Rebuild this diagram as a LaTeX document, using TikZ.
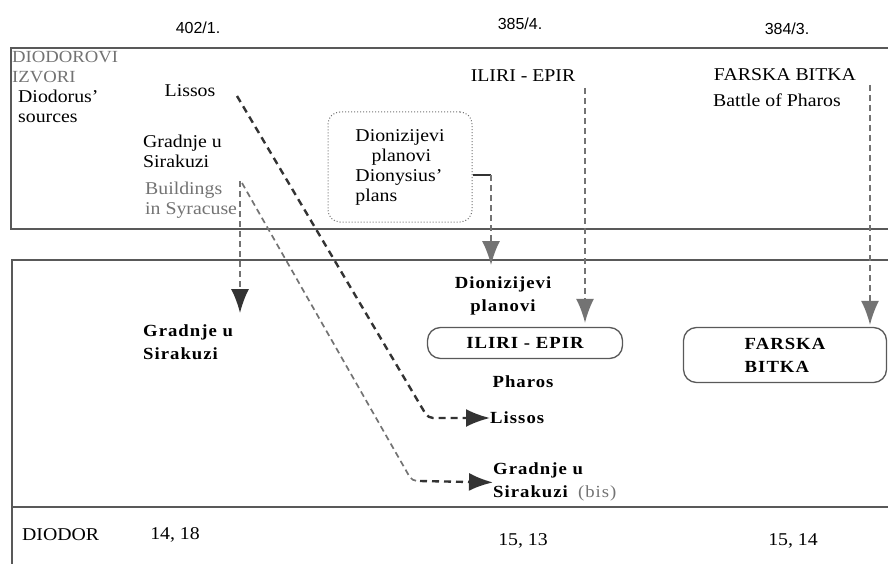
\documentclass[tikz,border=0pt]{standalone}
\usepackage{fontspec}
\setmainfont[FakeStretch=1.1]{Liberation Serif}
\newfontfamily\yearfont{Liberation Sans}
\usepackage{tikz}
\usetikzlibrary{calc, arrows.meta}

\definecolor{framegray}{gray}{0.35}
\definecolor{textgray}{gray}{0.45}
\definecolor{darkline}{gray}{0.2}
\definecolor{dashgray}{gray}{0.45}

\tikzset{
    txt/.style={font=\fontsize{18}{20}\selectfont, inner sep=0pt, align=left},
    graytxt/.style={txt, text=textgray, font=\fontsize{17}{20}\selectfont},
    yeartxt/.style={inner sep=0pt, font=\yearfont\fontsize{16}{18}\selectfont},
    boldtxt/.style={inner sep=0pt, align=left,
        font=\fontsize{17}{23}\selectfont\bfseries\addfontfeatures{LetterSpace=6}},
    frame/.style={draw=framegray, line width=1.3pt},
    eventbox/.style={draw=framegray, line width=1.3pt, rounded corners=13pt},
    darkdash/.style={draw=darkline, line width=2.4pt, dash pattern=on 7pt off 5pt},
    graydash/.style={draw=dashgray, line width=1.7pt, dash pattern=on 6pt off 4pt},
    tip/.style={-{Latex[length=24pt,width=18pt]}}
}

\begin{document}
\begin{tikzpicture}[x=1pt, y=-1pt]
    \useasboundingbox (0,0) rectangle (888,564);

    % frames
    \draw[frame] (888,48) -- (11,48) -- (11,229) -- (888,229);
    \draw[frame] (888,260) -- (12,260) -- (12,564);
    \draw[frame] (12,507) -- (888,507);

    % years
    \node[yeartxt] (y1) at (198,28) {402/1.};
    \node[yeartxt] (y2) at (520,24) {385/4.};
    \node[yeartxt] (y3) at (787,29) {384/3.};

    % sources
    \node[graytxt, anchor=north west] (izvori) at (12,51) {DIODOROVI\\IZVORI};
    \node[txt, anchor=north west] (sources) at (18,90) {Diodorus'\\sources};
    \node[txt] (src-lissos) at (190,91) {Lissos};
    \node[txt, anchor=north west] (src-gradnje) at (143,135) {Gradnje u\\Sirakuzi};
    \node[graytxt, txt, text=textgray, anchor=north west] (src-build) at (145,182)
        {Buildings\\in Syracuse};
    \node[txt, draw=dashgray, line width=1pt, dotted, rounded corners=12pt,
        minimum width=144pt, minimum height=110pt] (src-plans) at (400,167)
        {Dionizijevi\\\hspace*{0.9em}planovi\\Dionysius'\\plans};
    \node[txt] (src-iliri) at (523,76) {ILIRI - EPIR};
    \node[txt] (src-farska) at (785,75) {FARSKA BITKA};
    \node[txt] (src-pharos) at (777,100) {Battle of Pharos};

    % Diodor
    \node[boldtxt, anchor=north west] (dst-gradnje) at (143,325) {Gradnje u\\Sirakuzi};
    \node[boldtxt, anchor=north, align=center] (dst-plans) at (503,277) {Dionizijevi\\planovi};
    \node[boldtxt, eventbox, align=center, minimum width=195pt, minimum height=31pt]
        (dst-iliri) at (525,343) {ILIRI - EPIR};
    \node[boldtxt] (dst-pharos) at (523,382) {Pharos};
    \node[boldtxt, anchor=west] (dst-lissos) at (490,418) {Lissos};
    \node[boldtxt, anchor=north west] (dst-bis) at (493,463)
        {Gradnje u\\Sirakuzi\hspace{0.6em}{\mdseries\color{textgray}(bis)}};
    \node[boldtxt, eventbox, minimum width=203pt, minimum height=55pt]
        (dst-farska) at (785,355) {FARSKA\\BITKA};

    \node[txt, anchor=west] (diodor) at (22,535) {DIODOR};
    \node[txt] (d1) at (175,535) {14, 18};
    \node[txt] (d2) at (523,541) {15, 13};
    \node[txt] (d3) at (793,541) {15, 14};

    % connectors
    \coordinate (l1) at (237,96);
    \coordinate (l2) at (428,418);
    \draw[darkdash, tip, rounded corners=5pt] (l1) -- (l2) -- (dst-lissos.west);

    \coordinate (g1) at (242,183);
    \coordinate (g2) at (412,481);
    \draw[graydash, rounded corners=5pt] (g1) -- (g2) -- ++(8,0);
    \draw[darkdash, tip] ($(g2)+(8,0)$) -- (dst-bis.west);

    \coordinate (b1) at (240,181);
    \draw[graydash, -{Latex[length=24pt,width=18pt,color=darkline]},
        shorten >=12pt] (b1) -- (b1 |- dst-gradnje.north);

    \coordinate (p1) at (491,175);
    \draw[draw=darkline, line width=1.2pt] (src-plans.east |- p1) -- (p1);
    \draw[graydash, tip, shorten >=12pt] (p1) -- (p1 |- dst-plans.north);

    \coordinate (i1) at (585,88);
    \draw[graydash, tip, shorten >=4pt] (i1) -- (i1 |- dst-iliri.north);

    \coordinate (f1) at (870,85);
    \draw[graydash, tip, shorten >=2pt] (f1) -- (f1 |- dst-farska.north);
\end{tikzpicture}
\end{document}
